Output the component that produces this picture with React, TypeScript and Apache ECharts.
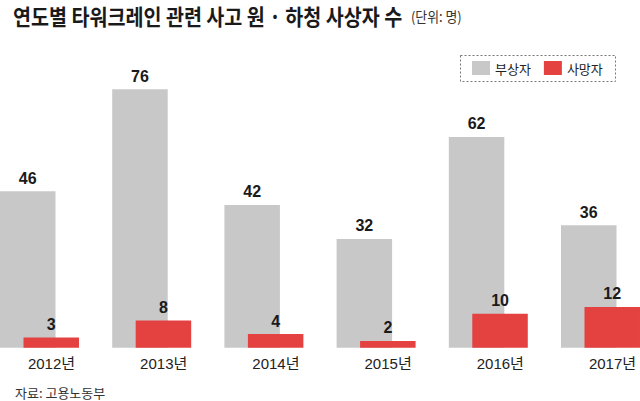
import React, { useEffect, useRef } from "react";
import * as echarts from "echarts";

const years = ["2012년", "2013년", "2014년", "2015년", "2016년", "2017년"];
const injured = [46, 76, 42, 32, 62, 36];
const deaths = [3, 8, 4, 2, 10, 12];
const seriesNames = ["부상자", "사망자"];
const titleText = "연도별 타워크레인 관련 사고 원 · 하청 사상자 수";
const unitText = "(단위: 명)";
const sourceText = "자료: 고용노동부";

const GRAY = "#c8c8c8";
const RED = "#e34241";
const KR = "'Noto Sans CJK KR', 'Noto Sans', sans-serif";
const NUM = "'Liberation Sans', Arial, 'Noto Sans CJK KR', sans-serif";

export default function App() {
  const ref = useRef<HTMLDivElement>(null);
  useEffect(() => {
    document.body.style.margin = "0";
    if (!ref.current) return;
    const chart = echarts.init(ref.current, null, { renderer: "svg" });
    chart.setOption({
      animation: false,
      backgroundColor: "#ffffff",
      grid: {
        left: -16.6,
        width: 673.2,
        top: 75.7,
        height: 272,
        outerBoundsMode: "none",
        containLabel: false,
      },
      legend: {
        left: 472,
        top: 61,
        icon: "rect",
        itemWidth: 18,
        itemHeight: 14,
        itemGap: 13,
        padding: 0,
        textStyle: { fontSize: 13, color: "#222", fontFamily: KR },
        data: seriesNames,
      },
      xAxis: {
        type: "category",
        data: years,
        axisLine: { show: false },
        axisTick: { show: false },
        axisLabel: {
          fontSize: 15,
          color: "#222",
          fontFamily: NUM,
          margin: 8,
          padding: [0, 0, 0, 24],
        },
      },
      yAxis: { type: "value", min: 0, max: 80, show: false, splitLine: { show: false } },
      series: [
        {
          name: seriesNames[0],
          type: "bar",
          data: injured,
          barWidth: 55.5,
          barGap: "-57.7%",
          itemStyle: { color: GRAY },
          label: {
            show: true,
            position: "top",
            distance: 5,
            fontSize: 16,
            fontWeight: "bold",
            color: "#1a1a1a",
            fontFamily: NUM,
          },
        },
        {
          name: seriesNames[1],
          type: "bar",
          data: deaths,
          barWidth: 55.5,
          itemStyle: { color: RED },
          label: {
            show: true,
            position: "top",
            distance: 5,
            fontSize: 16,
            fontWeight: "bold",
            color: "#1a1a1a",
            fontFamily: NUM,
          },
        },
      ],
      graphic: [
        {
          type: "text",
          x: 13,
          y: 15,
          scaleX: 0.89,
          style: {
            text: titleText,
            fontSize: 22,
            fontWeight: "bold",
            fontFamily: KR,
            fill: "#1a1a1a",
            verticalAlign: "middle",
          },
        },
        {
          type: "text",
          x: 411,
          y: 16,
          scaleX: 0.92,
          style: {
            text: unitText,
            fontSize: 14,
            fontFamily: KR,
            fill: "#333",
            verticalAlign: "middle",
          },
        },
        {
          type: "rect",
          shape: { x: 460.5, y: 55.5, width: 155, height: 26 },
          style: { fill: "none", stroke: "#777", lineWidth: 1, lineDash: [2, 2] },
        },
        {
          type: "text",
          x: 15,
          y: 392,
          style: {
            text: sourceText,
            fontSize: 13,
            fontFamily: KR,
            fill: "#333",
            verticalAlign: "middle",
          },
        },
      ],
    });
    return () => chart.dispose();
  }, []);
  return <div ref={ref} style={{ width: 640, height: 401 }} />;
}
